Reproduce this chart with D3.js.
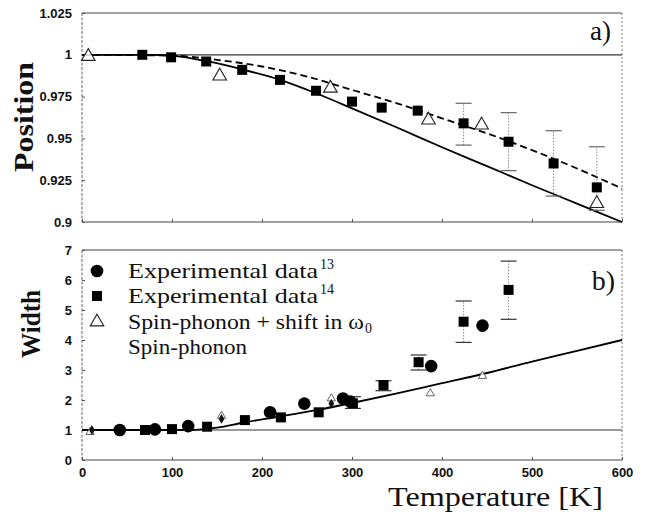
<!DOCTYPE html>
<html>
<head>
<meta charset="utf-8">
<script src="https://cdn.jsdelivr.net/npm/d3@7"></script>
<style>
  body { margin: 0; background: #fff; }
  svg { display: block; }
  .tick text { font-family: "Liberation Sans", Arial, sans-serif; font-weight: bold; font-size: 13px; fill: #111; }
  .tick line { stroke: #555; }
  .serif { font-family: "Liberation Serif", "Times New Roman", serif; fill: #111; }
</style>
</head>
<body>
<svg id="svg" width="652" height="524"></svg>
<script>
// ---- data ----
// panel a) Position
var posSquares = [[67,1.000],[99,0.9985],[138,0.996],[178,0.991],[220,0.985],[260,0.9785],
                  [300,0.972],[333,0.9684],[373,0.9666],[424,0.959],[474,0.948],[524,0.935],[572,0.9207]];
var posSquareErr = [[424,0.946,0.971],[474,0.9307,0.9654],[524,0.9155,0.9546],[572,0.907,0.945]];
var posTriangles = [[7,0.999],[153,0.9873],[276,0.980],[385,0.961],[444,0.958],[572,0.911]];
var posSolid = [[0,1],[80,1],[100,0.9995],[140,0.996],[180,0.991],[220,0.985],[260,0.977],
                [300,0.968],[350,0.9565],[400,0.9447],[450,0.9334],[500,0.922],[550,0.911],[600,0.900]];
var posDashed = [[0,1],[100,0.9995],[150,0.997],[200,0.993],[250,0.987],[300,0.979],[350,0.971],
                 [400,0.962],[450,0.953],[500,0.943],[550,0.932],[600,0.920]];
// panel b) Width
var widCircles = [[42,1.0],[81,1.02],[118,1.13],[209,1.59],[247,1.88],[290,2.05],[298,1.95],[388,3.13],[445,4.48]];
var widSquares = [[70,1.0],[100,1.03],[139,1.11],[181,1.33],[221,1.42],[263,1.59],
                  [301,1.89],[335,2.5],[374,3.26],[424,4.61],[474,5.67]];
var widSquareErr = [[301,1.72,2.11],[335,2.31,2.64],[374,3.0,3.5],[424,3.92,5.3],[474,4.69,6.63]];
var widTriangles = [[9,0.93],[155,1.47],[277,2.05],[387,2.22],[445,2.8]];
var widDiamonds = [[11,1.0],[155,1.37],[277,1.88]];
var widSolid = [[0,1],[120,1],[150,1.08],[180,1.25],[220,1.45],[260,1.66],[300,1.9],
                [350,2.22],[400,2.56],[450,2.9],[500,3.28],[550,3.64],[600,4.0]];

var xTicks = [0,100,200,300,400,500,600];
var posTicks = [0.9,0.925,0.95,0.975,1,1.025];
var widTicks = [0,1,2,3,4,5,6,7];
var legendLabels = ["Experimental data", "Experimental data", "Spin-phonon + shift in \u03C9", "Spin-phonon"];

// ---- scales ----
var svg = d3.select("#svg");
var x = d3.scaleLinear().domain([0,600]).range([82,622]);
var yTop = d3.scaleLinear().domain([0.9,1.025]).range([222,13]);
var yBot = d3.scaleLinear().domain([0,7]).range([460,250]);

var line = function(ys) {
  return d3.line().x(function(d) { return x(d[0]); }).y(function(d) { return ys(d[1]); }).curve(d3.curveMonotoneX);
};

var frame = function(ys) {
  var g = svg.append("g");
  var x0 = x.range()[0], x1 = x.range()[1], y0 = ys.range()[1], y1 = ys.range()[0];
  g.append("line").attr("x1",x0).attr("x2",x1).attr("y1",y0).attr("y2",y0).attr("stroke","#444");
  g.append("line").attr("x1",x0).attr("x2",x1).attr("y1",y1).attr("y2",y1).attr("stroke","#444");
  g.append("line").attr("x1",x0).attr("x2",x0).attr("y1",y0).attr("y2",y1).attr("stroke","#666").attr("stroke-dasharray","3,1.5");
  g.append("line").attr("x1",x1).attr("x2",x1).attr("y1",y0).attr("y2",y1).attr("stroke","#777").attr("stroke-dasharray","2,2");
  // reference line at 1
  g.append("line").attr("x1",x0).attr("x2",x1).attr("y1",ys(1)).attr("y2",ys(1)).attr("stroke","#333").attr("stroke-width",1.2);
};

// ---- axes ----
frame(yTop);
frame(yBot);
svg.append("g").attr("transform","translate(82,0)")
  .call(d3.axisLeft(yTop).tickValues(posTicks).tickSizeInner(-3).tickSizeOuter(0).tickPadding(10)
        .tickFormat(function(d) { return String(+d.toFixed(3)); }))
  .call(function(g) { g.select(".domain").remove(); });
svg.append("g").attr("transform","translate(82,0)")
  .call(d3.axisLeft(yBot).tickValues(widTicks).tickSizeInner(-3).tickSizeOuter(0).tickPadding(10)
        .tickFormat(d3.format("d")))
  .call(function(g) { g.select(".domain").remove(); });
svg.append("g").attr("transform","translate(0,460)")
  .call(d3.axisBottom(x).tickValues(xTicks).tickSizeInner(-3).tickSizeOuter(0).tickPadding(8))
  .call(function(g) { g.select(".domain").remove(); });
svg.append("g").attr("transform","translate(0,222)")
  .call(d3.axisBottom(x).tickValues(xTicks).tickSizeInner(-3).tickSizeOuter(0).tickFormat(""))
  .call(function(g) { g.select(".domain").remove(); });

// ---- panel a ----
svg.append("path").attr("d", line(yTop)(posSolid)).attr("fill","none").attr("stroke","#000").attr("stroke-width",1.8);
svg.append("path").attr("d", line(yTop)(posDashed)).attr("fill","none").attr("stroke","#000").attr("stroke-width",1.8).attr("stroke-dasharray","7,4");

var errBars = function(data, ys, capColor) {
  var g = svg.append("g");
  g.selectAll("line.stem").data(data).enter().append("line")
    .attr("x1", function(d) { return x(d[0]); }).attr("x2", function(d) { return x(d[0]); })
    .attr("y1", function(d) { return ys(d[1]); }).attr("y2", function(d) { return ys(d[2]); })
    .attr("stroke","#888").attr("stroke-dasharray","1.5,1.5");
  [1,2].forEach(function(k) {
    g.selectAll("line.cap"+k).data(data).enter().append("line")
      .attr("x1", function(d) { return x(d[0]) - 8; }).attr("x2", function(d) { return x(d[0]) + 8; })
      .attr("y1", function(d) { return ys(d[k]); }).attr("y2", function(d) { return ys(d[k]); })
      .attr("stroke",capColor).attr("stroke-width",1.2);
  });
};
errBars(posSquareErr, yTop, "#666");

var squares = function(data, ys, s) {
  svg.append("g").selectAll("rect").data(data).enter().append("rect")
    .attr("x", function(d) { return x(d[0]) - s/2; }).attr("y", function(d) { return ys(d[1]) - s/2; })
    .attr("width", s).attr("height", s).attr("fill","#000");
};
var triangles = function(data, ys, size, color, width) {
  svg.append("g").selectAll("path").data(data).enter().append("path")
    .attr("transform", function(d) { return "translate(" + x(d[0]) + "," + ys(d[1]) + ")"; })
    .attr("d", d3.symbol().type(d3.symbolTriangle).size(size))
    .attr("fill","#fff").attr("fill-opacity",0.85).attr("stroke",color).attr("stroke-width",width);
};
squares(posSquares, yTop, 10);
triangles(posTriangles, yTop, 80, "#222", 1.1);

svg.append("text").attr("class","serif").attr("x",611).attr("y",40).attr("text-anchor","end")
  .attr("font-size",27).text("a)");

// ---- panel b ----
svg.append("path").attr("d", line(yBot)(widSolid)).attr("fill","none").attr("stroke","#000").attr("stroke-width",1.8);
errBars(widSquareErr, yBot, "#333");
triangles(widTriangles, yBot, 30, "#555", 0.9);
svg.append("g").selectAll("path").data(widDiamonds).enter().append("path")
  .attr("transform", function(d) { return "translate(" + x(d[0]) + "," + yBot(d[1]) + ")"; })
  .attr("d", d3.symbol().type(d3.symbolDiamond).size(28)).attr("fill","#111");
squares(widSquares, yBot, 10);
svg.append("g").selectAll("circle").data(widCircles).enter().append("circle")
  .attr("cx", function(d) { return x(d[0]); }).attr("cy", function(d) { return yBot(d[1]); })
  .attr("r", 6.3).attr("fill","#000");

svg.append("text").attr("class","serif").attr("x",615).attr("y",290).attr("text-anchor","end")
  .attr("font-size",28).text("b)");

// ---- legend ----
var lg = svg.append("g");
var rowY = [278, 303, 329, 354];
var rowW = [190, 190, 236, 119];
lg.append("circle").attr("cx",97).attr("cy",rowY[0]-7).attr("r",6.3).attr("fill","#000");
lg.append("rect").attr("x",92).attr("y",rowY[1]-12).attr("width",10).attr("height",10).attr("fill","#000");
lg.append("path").attr("transform","translate(97," + (rowY[2]-7) + ")")
  .attr("d", d3.symbol().type(d3.symbolTriangle).size(80)).attr("fill","#fff").attr("stroke","#222").attr("stroke-width",1.1);
legendLabels.forEach(function(t, i) {
  lg.append("text").attr("class","serif").attr("x",128).attr("y",rowY[i]).attr("font-size",22)
    .attr("textLength",rowW[i]).attr("lengthAdjust","spacingAndGlyphs").text(t);
});
lg.append("text").attr("class","serif").attr("x",320).attr("y",rowY[0]-9).attr("font-size",14).text("13");
lg.append("text").attr("class","serif").attr("x",320).attr("y",rowY[1]-9).attr("font-size",14).text("14");
lg.append("text").attr("class","serif").attr("x",365).attr("y",rowY[2]+4).attr("font-size",14).text("0");

// ---- axis titles ----
svg.append("text").attr("class","serif").attr("font-weight","bold").attr("font-size",27)
  .attr("text-anchor","middle").attr("transform","translate(33,117) rotate(-90)")
  .attr("textLength",110).attr("lengthAdjust","spacingAndGlyphs").text("Position");
svg.append("text").attr("class","serif").attr("font-weight","bold").attr("font-size",27)
  .attr("text-anchor","middle").attr("transform","translate(40,324) rotate(-90)")
  .attr("textLength",68).attr("lengthAdjust","spacingAndGlyphs").text("Width");
svg.append("text").attr("class","serif").attr("font-size",27).attr("x",388).attr("y",506)
  .attr("textLength",215).attr("lengthAdjust","spacingAndGlyphs").text("Temperature [K]");
</script>
</body>
</html>
